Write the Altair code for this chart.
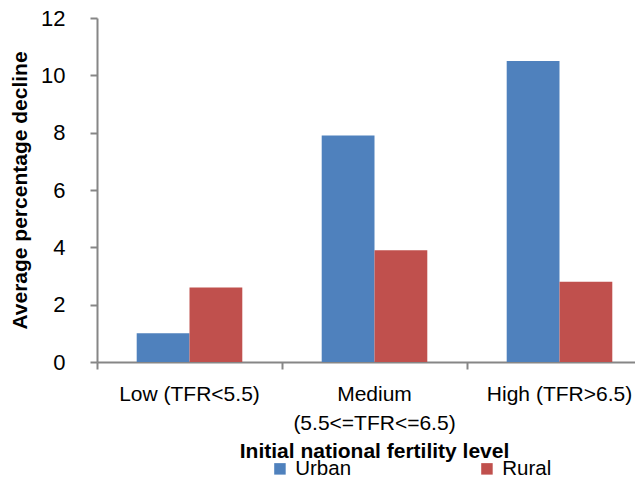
import altair as alt
import pandas as pd

categories = ["Low (TFR<5.5)", "Medium\n(5.5<=TFR<=6.5)", "High (TFR>6.5)"]
series = ["Urban", "Rural"]
urban = [1.0, 7.9, 10.5]
rural = [2.6, 3.9, 2.8]
y_ticks = [0, 2, 4, 6, 8, 10, 12]
colors = ["#4F81BD", "#C0504D"]

rows = []
for c, u, r in zip(categories, urban, rural):
    rows.append({"level": c, "area": "Urban", "value": u})
    rows.append({"level": c, "area": "Rural", "value": r})
df = pd.DataFrame(rows)

FONT = "Liberation Sans"
AX = "#868686"

chart = alt.Chart(df).mark_bar().encode(
    x=alt.X(
        "level:N",
        sort=categories,
        scale=alt.Scale(paddingInner=0, paddingOuter=0),
        axis=alt.Axis(
            title="Initial national fertility level",
            labelAngle=0,
            bandPosition=0,
            labelExpr="split(datum.label, '\\n')",
            labelFont=FONT, labelFontSize=21, labelColor="black",
            labelPadding=14, labelLineHeight=29,
            domainColor=AX, domainWidth=2,
            tickColor=AX, tickWidth=2, tickSize=7,
            titleFont=FONT, titleFontSize=21, titleFontWeight="bold", titleColor="black",
            titleX=277, titleY=95, titleBaseline="alphabetic",
            grid=False,
        ),
    ),
    xOffset=alt.XOffset("area:N", sort=series,
                        scale=alt.Scale(paddingInner=0, paddingOuter=0.752)),
    y=alt.Y(
        "value:Q",
        scale=alt.Scale(domain=[0, 12], nice=False),
        axis=alt.Axis(
            title="Average percentage decline",
            values=y_ticks,
            labelFont=FONT, labelFontSize=22, labelColor="black",
            labelPadding=25,
            domainColor=AX, domainWidth=2,
            tickColor=AX, tickWidth=2, tickSize=7,
            titleFont=FONT, titleFontSize=21, titleFontWeight="bold", titleColor="black",
            titleX=-76.5, titleY=172, titleBaseline="middle",
            grid=False,
        ),
    ),
    color=alt.Color(
        "area:N",
        sort=series,
        scale=alt.Scale(domain=series, range=colors),
        legend=alt.Legend(
            title=None, orient="none", legendX=172.7, legendY=440.5,
            direction="horizontal", columns=2, columnPadding=125,
            symbolType="square", symbolSize=132, symbolStrokeWidth=0,
            labelFont=FONT, labelFontSize=20.5, labelColor="black", labelOffset=5,
            padding=0,
        ),
    ),
).properties(
    width=555,
    height=344,
    autosize="none",
    padding={"left": 89, "top": 10, "right": -17, "bottom": 114},
).configure_view(stroke=None)

chart.save("out.html", embed_options={"renderer": "svg", "actions": False})
